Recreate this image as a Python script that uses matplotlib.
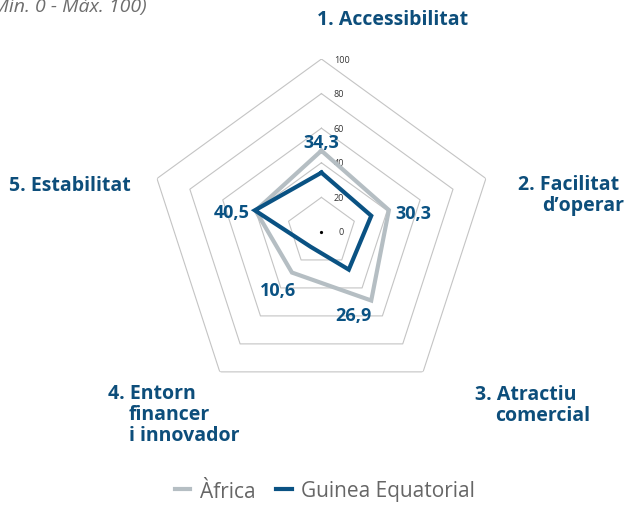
import matplotlib.pyplot as plt
import numpy as np
from matplotlib.lines import Line2D

plt.rcParams['font.family'] = ['Open Sans', 'DejaVu Sans']

categories = ["1. Accessibilitat", "2. Facilitat\nd\u2019operar", "3. Atractiu\ncomercial",
              "4. Entorn\nfinancer\ni innovador", "5. Estabilitat"]
africa = [47, 41, 49, 29, 40]
guinea = [34.3, 30.3, 26.9, 10.6, 40.5]
ticks = [0, 20, 40, 60, 80, 100]

blue = "#0a5283"
gray = "#b5bec3"
txt_blue = "#0d4e7b"

fig = plt.figure(figsize=(6.3, 5.06), dpi=100)
ax = fig.add_axes([0.2357, 0.1976, 0.549, 0.684], projection="polar")
ax.set_theta_offset(np.pi / 2)
ax.set_theta_direction(-1)
ax.set_ylim(0, 100)
ax.grid(False)
ax.set_xticks([])
ax.set_yticks([])
ax.spines["polar"].set_visible(False)
ax.patch.set_alpha(0)

n = len(categories)
ang = np.linspace(0, 2 * np.pi, n, endpoint=False)
ang_c = np.append(ang, ang[0])

# pentagon grid
for t in ticks[1:]:
    ax.plot(ang_c, [t] * (n + 1), color="#c4c4c4", lw=0.8, zorder=1)
for t in ticks[1:]:
    ax.annotate(str(t), (0, t), xytext=(9, 0), textcoords="offset points",
                fontsize=6.5, color="#333333", ha="left", va="center")
ax.annotate("0", (0, 0), xytext=(12, 0), textcoords="offset points",
            fontsize=6.5, color="#333333", ha="left", va="center")
ax.plot([0], [0], "o", color="black", ms=1.3, zorder=5)

ax.plot(ang_c, africa + africa[:1], color=gray, lw=3, zorder=3, solid_joinstyle="miter")
ax.plot(ang_c, guinea + guinea[:1], color=blue, lw=3, zorder=4, solid_joinstyle="miter")

# value labels
offs = [(0, 3, "center", "baseline"), (5, -2, "left", "center"), (-13, -4, "center", "top"),
        (-10, -6, "center", "top"), (-4, -1.5, "right", "center")]
for a, v1, v2, (dx, dy, ha, va) in zip(ang, africa, guinea, offs):
    ax.annotate(f"{v2:.1f}".replace(".", ","), (a, max(v1, v2)), xytext=(dx, dy),
                textcoords="offset points", ha=ha, va=va, fontsize=13,
                fontweight="bold", color=blue, zorder=6)

# category labels: left x, first baseline y (pixels), indent of next lines
pos = [(317, 25, 0), (518, 190, 24), (475, 400, 20), (108, 399, 21), (9, 191, 0)]
for lab, (x, y, ind) in zip(categories, pos):
    for i, line in enumerate(lab.split("\n")):
        fig.text((x + (ind if i else 0)) / 630, 1 - (y + 21 * i) / 506, line,
                 ha="left", va="baseline", fontsize=14, fontweight="bold",
                 color=txt_blue)

fig.text(147 / 630, 1 - 12 / 506, "(M\u00edn. 0 - M\u00e0x. 100)", ha="right",
         va="baseline", fontsize=14, style="italic", color="#6d6d6d")

handles = [Line2D([], [], color=gray, lw=3), Line2D([], [], color=blue, lw=3)]
fig.legend(handles, ["\u00c0frica", "Guinea Equatorial"], loc="center",
           bbox_to_anchor=(325 / 630, 1 - 492 / 506), ncol=2, frameon=False,
           fontsize=15, labelcolor="#666666", handlelength=0.75,
           handletextpad=0.45, columnspacing=1.0)

fig.savefig("out.png", dpi=100)
